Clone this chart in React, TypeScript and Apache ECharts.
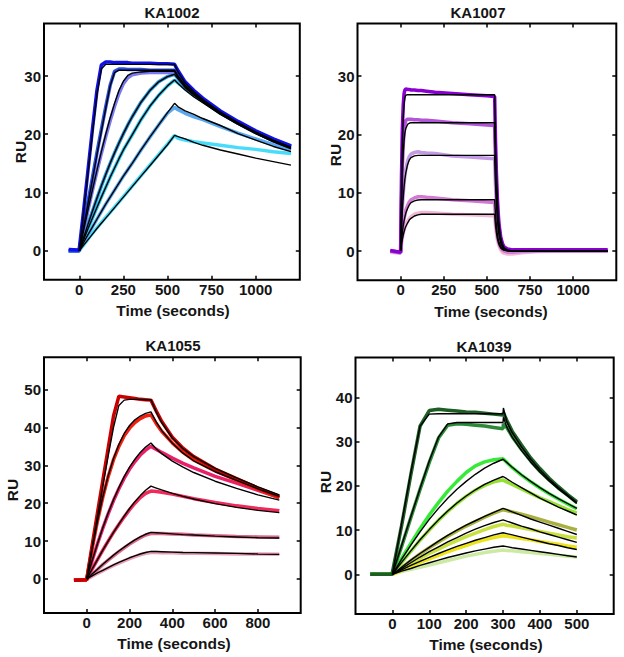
import React, { useEffect, useRef } from "react";
import * as echarts from "echarts";

// ---------- Panel 1: KA1002 ----------
const T1 = [-60, -1, 0, 25, 50, 75, 100, 125, 150, 175, 200, 225, 250, 275, 300, 350, 400, 450, 500, 540, 560, 600, 650, 700, 800, 900, 1000, 1100, 1200];
const fit1_1 = [null, null, 0, 6.8, 13.6, 20.3, 26.8, 31.2, 32, 32, 32, 32, 32, 32, 32, 32, 32, 32, 32, 32, 30.7, 28.8, 27.3, 26.0, 23.8, 22.0, 20.4, 19.0, 17.8];
const fit1_2 = [null, null, 0, 4.1, 8.2, 12.3, 16.5, 20.5, 24.5, 28.3, 30.6, 31, 31, 31, 31, 31, 31, 31, 31, 31, 30.0, 28.4, 27.0, 25.8, 23.7, 21.9, 20.3, 18.9, 17.7];
const fit1_3 = [null, null, 0, 3.6, 7.1, 10.5, 13.8, 17, 20, 22.8, 25.3, 27.5, 29.1, 30.1, 30.5, 30.7, 30.8, 30.8, 30.8, 30.8, 29.8, 28.2, 26.9, 25.7, 23.6, 21.8, 20.2, 18.8, 17.6];
const fit1_4 = [null, null, 0, 2.3, 4.6, 6.8, 9, 11.1, 13.1, 15, 16.8, 18.5, 20.1, 21.6, 23.0, 25.5, 27.5, 29, 29.9, 30.3, 29.5, 28.0, 26.7, 25.6, 23.5, 21.8, 20.2, 18.8, 17.6];
const fit1_5 = [null, null, 0, 1.9, 3.8, 5.6, 7.4, 9.2, 10.9, 12.6, 14.2, 15.8, 17.3, 18.6, 19.9, 22.5, 24.8, 26.7, 28.3, 29.3, 28.7, 27.6, 26.4, 25.4, 23.4, 21.7, 20.1, 18.7, 17.5];
const fit1_6 = [null, null, 0, 1.4, 2.8, 4.1, 5.4, 6.7, 8, 9.2, 10.4, 11.6, 12.8, 13.9, 15, 17.3, 19.5, 21.6, 23.7, 25.3, 24.7, 24.0, 23.4, 22.7, 21.5, 20.1, 19.0, 17.9, 17.0];
const fit1_7 = [null, null, 0, 0.95, 1.9, 2.85, 3.8, 4.7, 5.6, 6.5, 7.4, 8.3, 9.2, 10.1, 11.0, 12.8, 14.6, 16.4, 18.2, 19.8, 19.6, 19.2, 18.6, 18.1, 17.3, 16.6, 15.9, 15.3, 14.7];
const obs1_1 = [0.2, 0.1, 0, 7, 14, 21, 27.5, 31.9, 32.4, 32.4, 32.3, 32.3, 32.3, 32.3, 32.2, 32.2, 32.2, 32.1, 32.1, 32.0, 30.9, 29.0, 27.5, 26.2, 24.0, 22.2, 20.6, 19.2, 18.0];
const obs1_2 = [0, 0, 0, 4.3, 8.5, 12.6, 16.8, 20.8, 24.7, 28.4, 30.8, 31.2, 31.2, 31.1, 31.1, 31.1, 31.0, 31.0, 31.0, 31.0, 30.2, 28.6, 27.2, 25.9, 23.7, 21.9, 20.3, 18.9, 17.8];
const obs1_3 = [0, 0, 0, 3.5, 7, 10.4, 13.6, 16.7, 19.6, 22.3, 24.8, 27, 28.7, 29.7, 30.2, 30.5, 30.6, 30.6, 30.6, 30.6, 29.8, 28.3, 27.0, 25.8, 23.7, 21.9, 20.3, 18.9, 17.8];
const obs1_4 = [0, 0, 0, 2.3, 4.6, 6.8, 9, 11.1, 13.1, 15, 16.8, 18.5, 20.1, 21.6, 23.0, 25.5, 27.5, 29, 29.9, 30.3, 29.6, 28.1, 26.8, 25.7, 23.6, 21.9, 20.3, 19.0, 17.9];
const obs1_5 = [0, 0, 0, 1.9, 3.8, 5.6, 7.4, 9.2, 10.9, 12.6, 14.2, 15.8, 17.3, 18.6, 19.9, 22.5, 24.8, 26.7, 28.3, 29.3, 28.8, 27.8, 26.7, 25.7, 23.7, 22.0, 20.5, 19.1, 18.0];
const obs1_6 = [0, 0, 0, 1.4, 2.8, 4.1, 5.4, 6.7, 8, 9.2, 10.4, 11.6, 12.8, 13.9, 15, 17.3, 19.5, 21.6, 23.6, 24.6, 24.2, 23.6, 23.0, 22.5, 21.3, 20.2, 19.2, 18.2, 17.3];
const obs1_7 = [0, 0, 0, 1, 2, 3, 3.9, 4.8, 5.7, 6.6, 7.5, 8.4, 9.3, 10.2, 11.1, 12.9, 14.7, 16.5, 18.3, 19.8, 19.3, 19.0, 18.7, 18.5, 18.1, 17.7, 17.4, 17.0, 16.7];
const colors1 = ["#1010e8", "#2a4fe0", "#7878f0", "#2898dc", "#30c8f0", "#5aa8f0", "#48dcfa"];

// ---------- Panel 2: KA1007 ----------
const T2 = [-60, -1, 0, 5, 10, 15, 20, 25, 30, 40, 50, 60, 80, 100, 120, 150, 200, 300, 400, 500, 545, 550, 555, 560, 565, 570, 580, 590, 600, 620, 650, 700, 800, 1000, 1200];
const fit2_1 = [null, null, 0, 12, 19, 23, 25.3, 26.3, 26.7, 26.8, 26.8, 26.8, 26.8, 26.8, 26.8, 26.8, 26.8, 26.8, 26.8, 26.8, 26.8, 18.8, 13.4, 9.4, 6.7, 4.6, 2.3, 1.15, 0.56, 0.13, 0.02, 0, 0, 0, 0];
const fit2_2 = [null, null, 0, 8, 13.5, 16.8, 19, 20.3, 21, 21.7, 21.9, 22, 22, 22, 22, 22, 22, 22, 22, 22, 22, 15.4, 11, 7.7, 5.5, 3.7, 1.9, 0.95, 0.46, 0.11, 0.01, 0, 0, 0, 0];
const fit2_3 = [null, null, 0, 4, 7, 9.2, 11, 12.4, 13.4, 14.8, 15.6, 16, 16.3, 16.4, 16.4, 16.4, 16.4, 16.4, 16.4, 16.4, 16.4, 11.5, 8.2, 5.7, 4.1, 2.8, 1.4, 0.7, 0.34, 0.08, 0.01, 0, 0, 0, 0];
const fit2_4 = [null, null, 0, 1.8, 3.2, 4.3, 5.2, 5.9, 6.5, 7.3, 7.9, 8.3, 8.6, 8.75, 8.8, 8.8, 8.8, 8.8, 8.8, 8.8, 8.8, 6.2, 4.4, 3.1, 2.2, 1.5, 0.76, 0.38, 0.18, 0.04, 0, 0, 0, 0, 0];
const fit2_5 = [null, null, 0, 1.1, 2, 2.7, 3.3, 3.8, 4.2, 4.8, 5.3, 5.6, 6, 6.2, 6.3, 6.3, 6.3, 6.3, 6.3, 6.3, 6.3, 4.4, 3.2, 2.2, 1.6, 1.1, 0.54, 0.27, 0.13, 0.03, 0, 0, 0, 0, 0];
const obs2_1 = [0.1, -0.2, 0, 13, 21, 25, 27, 27.6, 27.8, 27.7, 27.7, 27.6, 27.6, 27.5, 27.5, 27.4, 27.2, 27.0, 26.8, 26.6, 26.5, 18.8, 13.5, 9.5, 6.8, 4.7, 2.4, 1.3, 0.7, 0.35, 0.2, 0.2, 0.2, 0.2, 0.2];
const obs2_2 = [0, -0.2, 0, 9, 14.5, 18, 20.5, 21.8, 22.4, 22.6, 22.6, 22.6, 22.5, 22.5, 22.4, 22.4, 22.3, 22.0, 21.8, 21.6, 21.5, 15.2, 11, 7.8, 5.6, 3.9, 2.0, 1.0, 0.5, 0.2, 0.1, 0.1, 0.1, 0.1, 0.1];
const obs2_3 = [0, -0.3, 0, 4.5, 7.5, 9.8, 11.6, 13, 14, 15.4, 16.2, 16.6, 16.9, 17, 16.9, 16.8, 16.7, 16.3, 16.1, 15.9, 15.8, 11.2, 8.0, 5.6, 4.0, 2.8, 1.4, 0.7, 0.3, 0.1, 0, 0, 0, 0, 0];
const obs2_4 = [0, -0.3, 0, 2, 3.5, 4.7, 5.6, 6.3, 7, 7.8, 8.4, 8.8, 9.1, 9.3, 9.3, 9.2, 9.1, 8.8, 8.6, 8.4, 8.3, 5.8, 4.1, 2.9, 2.0, 1.4, 0.6, 0.2, 0, -0.2, -0.2, -0.1, 0, 0, 0];
const obs2_5 = [-0.2, -0.4, 0, 1.2, 2.2, 3, 3.6, 4.1, 4.5, 5.1, 5.6, 5.9, 6.3, 6.5, 6.6, 6.6, 6.5, 6.3, 6.2, 6.1, 6.0, 4.2, 3.0, 2.0, 1.4, 0.9, 0.2, -0.2, -0.4, -0.5, -0.5, -0.3, -0.1, 0, 0];
const colors2 = ["#8a00d0", "#b056d6", "#c49ae4", "#d478d6", "#f2b6d6"];

// ---------- Panel 3: KA1055 ----------
const T3 = [-60, -1, 0, 25, 50, 75, 100, 125, 150, 175, 200, 225, 250, 275, 300, 325, 350, 400, 450, 500, 600, 700, 800, 900];
const fit3_1 = [null, null, 0, 8.3, 16.5, 24.6, 32.5, 40, 45.8, 47.2, 47.4, 47.4, 47.4, 47.3, 47.3, 44, 41.3, 37.2, 34.4, 32.3, 29.2, 26.7, 24.3, 22.2];
const fit3_2 = [null, null, 0, 8, 15.3, 21.7, 27.2, 31.8, 35.5, 38.4, 40.5, 42, 43, 43.7, 44.1, 41.4, 39.2, 35.8, 33.2, 31.2, 28.3, 26, 23.8, 21.8];
const fit3_3 = [null, null, 0, 4.8, 9.3, 13.5, 17.4, 20.9, 24.1, 27, 29.5, 31.6, 33.4, 34.8, 35.9, 34.3, 33.1, 31.1, 29.5, 28.1, 25.8, 23.9, 22.2, 20.8];
const fit3_4 = [null, null, 0, 2.6, 5.1, 7.6, 10, 12.3, 14.5, 16.6, 18.6, 20.4, 22, 23.4, 24.5, 24, 23.5, 22.6, 21.8, 21.1, 19.9, 18.9, 18.1, 17.5];
const fit3_5 = [null, null, 0, 1.3, 2.6, 3.9, 5.1, 6.3, 7.4, 8.4, 9.4, 10.3, 11.1, 11.8, 12.3, 12.2, 12.1, 11.9, 11.7, 11.6, 11.3, 11.1, 10.9, 10.8];
const fit3_6 = [null, null, 0, 0.8, 1.6, 2.3, 3, 3.7, 4.4, 5, 5.6, 6.1, 6.6, 7, 7.3, 7.25, 7.2, 7.1, 7.0, 6.95, 6.85, 6.75, 6.6, 6.5];
const obs3_1 = [-0.3, -0.2, 0, 8.8, 17.5, 26, 34.5, 43, 48.2, 48, 47.8, 47.6, 47.4, 47.3, 47.2, 44.3, 41.6, 37.4, 34.5, 32.3, 29, 26.5, 24, 21.8];
const obs3_2 = [-0.3, -0.2, 0, 8, 15.3, 21.6, 27, 31.5, 35, 37.8, 39.8, 41.3, 42.3, 43, 43.3, 41, 39, 35.9, 33.4, 31.4, 28.5, 26.1, 23.7, 21.4];
const obs3_3 = [-0.3, -0.2, 0, 4.8, 9.3, 13.4, 17.2, 20.7, 23.8, 26.6, 29, 31, 32.7, 34, 35, 34.2, 33.4, 31.9, 30.5, 29.3, 27.1, 25.3, 23.4, 21.5];
const obs3_4 = [-0.3, -0.2, 0, 2.6, 5.1, 7.6, 10, 12.3, 14.4, 16.4, 18.3, 20, 21.5, 22.6, 23.2, 23.1, 22.9, 22.4, 21.8, 21.2, 20.2, 19.3, 18.6, 18.0];
const obs3_5 = [-0.3, -0.2, 0, 1.2, 2.5, 3.8, 5, 6.1, 7.2, 8.2, 9.2, 10.1, 10.9, 11.6, 12, 12, 12, 11.9, 11.8, 11.6, 11.4, 11.2, 11.1, 11];
const obs3_6 = [-0.3, -0.2, 0, 0.7, 1.5, 2.2, 2.9, 3.6, 4.2, 4.8, 5.4, 5.9, 6.4, 6.8, 7.0, 7, 6.9, 6.9, 6.8, 6.8, 6.7, 6.6, 6.6, 6.5];
const colors3 = ["#c80000", "#f02010", "#e8206a", "#f02a5a", "#d86a88", "#e8a0b8"];

// ---------- Panel 4: KA1039 ----------
const T4 = [-60, -1, 0, 25, 50, 75, 100, 125, 150, 175, 200, 225, 250, 275, 300, 301, 310, 325, 350, 375, 400, 425, 450, 475, 500];
const fit4_1 = [null, null, 0, 11.5, 23, 33.5, 36.2, 36.3, 36.3, 36.3, 36.3, 36.3, 36.3, 36.3, 36.3, 37.6, 34.5, 32.0, 28.8, 26.0, 23.6, 21.5, 19.6, 17.9, 16.2];
const fit4_2 = [null, null, 0, 6.5, 13, 19.4, 25.6, 31, 34, 34.3, 34.3, 34.3, 34.3, 34.3, 34.3, 35.5, 33.3, 31.0, 28.0, 25.4, 23.1, 21.1, 19.3, 17.7, 16.0];
const fit4_3 = [null, null, 0, 3.4, 6.6, 9.6, 12.4, 14.9, 17.2, 19.2, 21, 22.6, 24, 25.1, 26, 26, 25.3, 24.2, 22.5, 21, 19.6, 18.3, 17.1, 16, 14.9];
const fit4_4 = [null, null, 0, 2.7, 5.3, 7.8, 10.1, 12.3, 14.3, 16.1, 17.7, 19.1, 20.3, 21.3, 22.1, 22.1, 21.6, 20.8, 19.6, 18.4, 17.2, 16.2, 15.2, 14.3, 13.4];
const fit4_5 = [null, null, 0, 1.6, 3.2, 4.7, 6.1, 7.5, 8.8, 10, 11.1, 12.1, 13.1, 14, 14.9, 14.9, 14.6, 14.1, 13.3, 12.5, 11.8, 11.1, 10.4, 9.7, 9.0];
const fit4_6 = [null, null, 0, 1.3, 2.6, 3.9, 5.1, 6.2, 7.3, 8.3, 9.3, 10.2, 11, 11.7, 12.3, 12.3, 12.0, 11.6, 10.9, 10.3, 9.6, 9, 8.4, 7.8, 7.2];
const fit4_7 = [null, null, 0, 1, 2, 2.9, 3.8, 4.7, 5.5, 6.3, 7, 7.7, 8.3, 8.9, 9.4, 9.4, 9.2, 8.9, 8.4, 7.9, 7.4, 6.9, 6.5, 6.0, 5.6];
const fit4_8 = [null, null, 0, 0.7, 1.3, 2, 2.6, 3.2, 3.8, 4.3, 4.8, 5.3, 5.7, 6.1, 6.4, 6.4, 6.25, 6, 5.7, 5.4, 5.1, 4.8, 4.5, 4.2, 3.9];
const obs4_1 = [0, 0, 0, 11, 22.5, 33.5, 37, 37.3, 37.1, 36.9, 36.7, 36.6, 36.4, 36.2, 36, 36.5, 34.8, 32.3, 29.2, 26.3, 23.9, 21.7, 19.8, 18.0, 16.4];
const obs4_2 = [0, 0, 0, 6.3, 12.8, 19.2, 25.3, 30.8, 33.7, 34, 33.9, 33.7, 33.5, 33.2, 32.9, 34, 33.2, 31.1, 28.2, 25.6, 23.3, 21.3, 19.5, 17.9, 16.2];
const obs4_3 = [0, 0, 0, 3.6, 7, 10.3, 13.4, 16.2, 18.8, 21, 23, 24.5, 25.4, 25.9, 26.1, 26.1, 25.3, 24.1, 22.4, 20.9, 19.5, 18.2, 17, 15.9, 14.8];
const obs4_4 = [0, 0, 0, 2.6, 5.2, 7.7, 10, 12.2, 14.2, 16, 17.6, 19, 20.1, 20.9, 21.3, 21.3, 20.9, 20.3, 19.3, 18.3, 17.3, 16.4, 15.5, 14.6, 13.8];
const obs4_5 = [0, 0, 0, 1.5, 3.1, 4.6, 6, 7.3, 8.6, 9.8, 10.9, 11.9, 12.9, 13.8, 14.6, 14.6, 14.4, 14.1, 13.6, 13, 12.4, 11.8, 11.2, 10.6, 10];
const obs4_6 = [0, 0, 0, 1.2, 2.4, 3.6, 4.7, 5.7, 6.7, 7.6, 8.5, 9.3, 10.1, 10.8, 11.3, 11.3, 11.1, 10.9, 10.5, 10.1, 9.7, 9.3, 8.9, 8.5, 8.2];
const obs4_7 = [0, 0, 0, 0.9, 1.8, 2.7, 3.5, 4.3, 5.1, 5.8, 6.5, 7.2, 7.8, 8.3, 8.7, 8.7, 8.6, 8.4, 8.1, 7.8, 7.4, 7.1, 6.8, 6.4, 6.1];
const obs4_8 = [0, 0, 0, 0.6, 1.1, 1.6, 2.1, 2.6, 3.1, 3.6, 4.1, 4.5, 4.9, 5.2, 5.5, 5.5, 5.4, 5.3, 5.1, 4.9, 4.7, 4.5, 4.3, 4.1, 3.9];
const colors4 = ["#1c5e24", "#2a8a38", "#38ea38", "#96e036", "#a8b040", "#c8e040", "#ece418", "#cceaa4"];

// ---------- Axes ticks / titles ----------
const titles = ["KA1002", "KA1007", "KA1055", "KA1039"];
const xTicks1 = [0, 250, 500, 750, 1000];
const xTicks2 = [0, 250, 500, 750, 1000];
const xTicks3 = [0, 200, 400, 600, 800];
const xTicks4 = [0, 100, 200, 300, 400, 500];
const yTicks1 = [0, 10, 20, 30];
const yTicks2 = [0, 10, 20, 30];
const yTicks3 = [0, 10, 20, 30, 40, 50];
const yTicks4 = [0, 10, 20, 30, 40];
const xLabel = "Time (seconds)";
const yLabel = "RU";

const FONT = "'Liberation Sans', Arial, sans-serif";

function buildOption() {
  const panels = [
    { T: T1, fits: [fit1_1, fit1_2, fit1_3, fit1_4, fit1_5, fit1_6, fit1_7], obs: [obs1_1, obs1_2, obs1_3, obs1_4, obs1_5, obs1_6, obs1_7], colors: colors1,
      grid: { left: 44, top: 23.6, width: 255.8, height: 256.2 }, x: [-200, 1250], y: [-5, 39], xt: xTicks1, yt: yTicks1,
      title: [172, 12.5], ru: [20, 152], time: [173, 310] },
    { T: T2, fits: [fit2_1, fit2_2, fit2_3, fit2_4, fit2_5], obs: [obs2_1, obs2_2, obs2_3, obs2_4, obs2_5], colors: colors2,
      grid: { left: 357.5, top: 23.5, width: 258.8, height: 256.7 }, x: [-250, 1250], y: [-5, 39], xt: xTicks2, yt: yTicks2,
      title: [478, 12.5], ru: [335, 155], time: [491, 311] },
    { T: T3, fits: [fit3_1, fit3_2, fit3_3, fit3_4, fit3_5, fit3_6], obs: [obs3_1, obs3_2, obs3_3, obs3_4, obs3_5, obs3_6], colors: colors3,
      grid: { left: 44, top: 357.3, width: 256.7, height: 255.8 }, x: [-200, 1000], y: [-9, 58.5], xt: xTicks3, yt: yTicks3,
      title: [173, 345], ru: [12, 490], time: [174, 643] },
    { T: T4, fits: [fit4_1, fit4_2, fit4_3, fit4_4, fit4_5, fit4_6, fit4_7, fit4_8], obs: [obs4_1, obs4_2, obs4_3, obs4_4, obs4_5, obs4_6, obs4_7, obs4_8], colors: colors4,
      grid: { left: 355.5, top: 357.5, width: 258.2, height: 256.6 }, x: [-100, 600], y: [-9, 49], xt: xTicks4, yt: yTicks4,
      title: [484, 346], ru: [325, 482], time: [486, 644] },
  ];

  const grids: any[] = [];
  const xAxes: any[] = [];
  const yAxes: any[] = [];
  const series: any[] = [];
  const graphics: any[] = [];
  const tickStyle = { color: "#000", width: 1.5 };
  const labelStyle = { color: "#151515", fontSize: 15, fontWeight: "bold", fontFamily: FONT, formatter: (v: number) => String(v) };
  const hiddenLine = { show: false, onZero: false };

  panels.forEach((p) => {
    grids.push({ ...p.grid, show: true, borderColor: "#000", borderWidth: 2, backgroundColor: "transparent", containLabel: false });
  });
  // primary axes
  panels.forEach((p, i) => {
    xAxes.push({
      type: "value", gridIndex: i, min: p.x[0], max: p.x[1], position: "bottom",
      axisLine: hiddenLine, splitLine: { show: false },
      axisTick: { show: true, inside: true, length: 4, lineStyle: tickStyle, customValues: p.xt },
      axisLabel: { ...labelStyle, margin: 2, customValues: p.xt },
    });
    yAxes.push({
      type: "value", gridIndex: i, min: p.y[0], max: p.y[1], position: "left",
      axisLine: hiddenLine, splitLine: { show: false },
      axisTick: { show: true, inside: true, length: 4, lineStyle: tickStyle, customValues: p.yt },
      axisLabel: { ...labelStyle, margin: 3, customValues: p.yt },
    });
  });
  // mirror axes
  panels.forEach((p, i) => {
    xAxes.push({
      type: "value", gridIndex: i, min: p.x[0], max: p.x[1], position: "top",
      axisLine: hiddenLine, splitLine: { show: false },
      axisTick: { show: true, inside: true, length: 4, lineStyle: tickStyle, customValues: p.xt },
      axisLabel: { show: false },
    });
    yAxes.push({
      type: "value", gridIndex: i, min: p.y[0], max: p.y[1], position: "right",
      axisLine: hiddenLine, splitLine: { show: false },
      axisTick: { show: true, inside: true, length: 4, lineStyle: tickStyle, customValues: p.yt },
      axisLabel: { show: false },
    });
  });

  panels.forEach((p, i) => {
    const n = p.obs.length;
    for (let k = n - 1; k >= 0; k--) {
      series.push({
        type: "line", xAxisIndex: i, yAxisIndex: i, symbol: "none", showSymbol: false, silent: true, z: 2,
        lineStyle: { color: p.colors[k], width: 3.5 },
        data: p.T.map((t, j) => [t, p.obs[k][j]]),
      });
    }
    p.fits.forEach((f) => {
      series.push({
        type: "line", xAxisIndex: i, yAxisIndex: i, symbol: "none", showSymbol: false, silent: true, z: 3,
        lineStyle: { color: "#000", width: 1.4 },
        data: p.T.map((t, j) => [t, f[j]]),
      });
    });
    graphics.push({ type: "text", x: p.title[0], y: p.title[1], style: { text: titles[i], fill: "#151515", font: `bold 15px ${FONT}`, align: "center", verticalAlign: "middle" } });
    graphics.push({ type: "text", x: p.time[0], y: p.time[1], style: { text: xLabel, fill: "#151515", font: `bold 15.5px ${FONT}`, align: "center", verticalAlign: "middle" } });
    graphics.push({ type: "text", x: p.ru[0], y: p.ru[1], rotation: Math.PI / 2, style: { text: yLabel, fill: "#151515", font: `bold 15.5px ${FONT}`, align: "center", verticalAlign: "middle" } });
  });

  return { animation: false, backgroundColor: "#fff", grid: grids, xAxis: xAxes, yAxis: yAxes, series, graphic: graphics };
}

export default function App() {
  const ref = useRef<HTMLDivElement>(null);
  useEffect(() => {
    if (!ref.current) return;
    const chart = echarts.init(ref.current, null, { renderer: "svg" });
    chart.setOption(buildOption() as any);
    return () => chart.dispose();
  }, []);
  return <div ref={ref} style={{ position: "absolute", left: 0, top: 0, width: 624, height: 657, background: "#fff" }} />;
}
